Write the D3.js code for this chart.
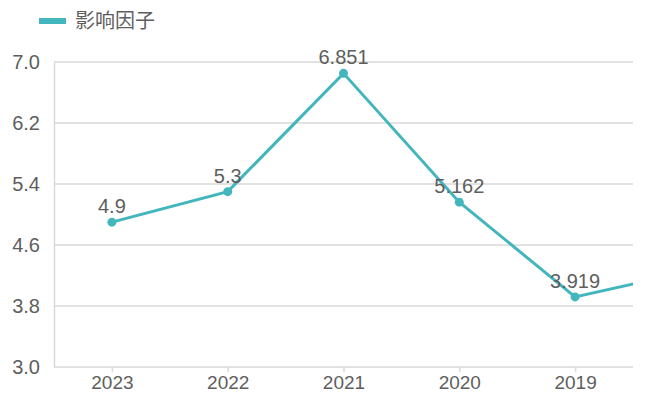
<!DOCTYPE html>
<html>
<head>
<meta charset="utf-8">
<script src="https://cdn.jsdelivr.net/npm/d3@7"></script>
<style>
  body { margin: 0; background: #fff; }
  text { font-family: "Liberation Sans", Arial, "Noto Sans CJK SC", sans-serif; }
</style>
</head>
<body>
<div id="chart"></div>
<script>
// data (2018 lies past the right edge, only its line stub shows)
const years = ["2023", "2022", "2021", "2020", "2019", "2018"];
const impactFactor = [4.9, 5.3, 6.851, 5.162, 3.919, 4.26];
const visibleCount = 5;
const yTicks = [3.0, 3.8, 4.6, 5.4, 6.2, 7.0];
const seriesName = "影响因子";

const W = 651, H = 396;
const margin = {top: 62, right: 18, bottom: 29, left: 54};
const width = W - margin.left - margin.right;
const height = H - margin.top - margin.bottom;
const color = "#43b6bd";
const textColor = "#5e5e5e";
const gridColor = "#d9d9d9";

const svg = d3.select("#chart").append("svg")
    .attr("width", W)
    .attr("height", H);

// legend
const legend = svg.append("g").attr("transform", "translate(39,21)");
legend.append("rect")
    .attr("x", 0).attr("y", -3)
    .attr("width", 27).attr("height", 6)
    .attr("fill", color);
legend.append("text")
    .attr("x", 36).attr("y", 0)
    .attr("dy", "0.35em")
    .attr("font-size", 20)
    .attr("fill", textColor)
    .text(seriesName);

const g = svg.append("g")
    .attr("transform", "translate(" + margin.left + "," + margin.top + ")");

// band step so that only the first five years fit in the plot
const step = width / visibleCount;
const xScale = d3.scalePoint()
    .domain(years)
    .range([step / 2, step / 2 + step * (years.length - 1)]);
const yScale = d3.scaleLinear().domain([3.0, 7.0]).range([height, 0]);

// grid lines
g.append("g")
    .selectAll("line")
    .data(yTicks.slice(1))
    .join("line")
    .attr("x1", 0).attr("x2", width)
    .attr("y1", d => yScale(d)).attr("y2", d => yScale(d))
    .attr("stroke", gridColor)
    .attr("stroke-width", 1.5);

// y axis
const yAxisG = g.append("g")
    .call(d3.axisLeft(yScale).tickValues(yTicks).tickFormat(d3.format(".1f")).tickSize(0).tickPadding(14));
yAxisG.select(".domain").attr("stroke", gridColor).attr("stroke-width", 1.5);
yAxisG.selectAll("text")
    .attr("font-size", 20)
    .attr("fill", textColor);

// x axis
const xAxisG = g.append("g")
    .attr("transform", "translate(0," + height + ")")
    .call(d3.axisBottom(xScale).tickValues(years.slice(0, visibleCount)).tickSize(5).tickSizeOuter(0).tickPadding(4));
xAxisG.select(".domain")
    .attr("d", "M0,0H" + width)
    .attr("stroke", gridColor).attr("stroke-width", 1.5);
xAxisG.selectAll(".tick line").attr("stroke", gridColor).attr("stroke-width", 1.5);
xAxisG.selectAll("text")
    .attr("font-size", 19)
    .attr("fill", textColor);

// clip to the plot area
svg.append("defs").append("clipPath").attr("id", "plotClip")
    .append("rect")
    .attr("x", 0).attr("y", -20)
    .attr("width", width).attr("height", height + 40);

const pts = years.map((y, i) => ({year: y, value: impactFactor[i]}));

const plot = g.append("g").attr("clip-path", "url(#plotClip)");

plot.append("path")
    .datum(pts)
    .attr("fill", "none")
    .attr("stroke", color)
    .attr("stroke-width", 3)
    .attr("d", d3.line().x(d => xScale(d.year)).y(d => yScale(d.value)));

plot.selectAll(".dot")
    .data(pts.slice(0, visibleCount))
    .join("circle")
    .attr("class", "dot")
    .attr("cx", d => xScale(d.year))
    .attr("cy", d => yScale(d.value))
    .attr("r", 4.5)
    .attr("fill", color);

g.selectAll(".valLabel")
    .data(pts.slice(0, visibleCount))
    .join("text")
    .attr("class", "valLabel")
    .attr("x", d => xScale(d.year))
    .attr("y", d => yScale(d.value) - 9)
    .attr("text-anchor", "middle")
    .attr("font-size", 20)
    .attr("fill", textColor)
    .text(d => d.value);
</script>
</body>
</html>
